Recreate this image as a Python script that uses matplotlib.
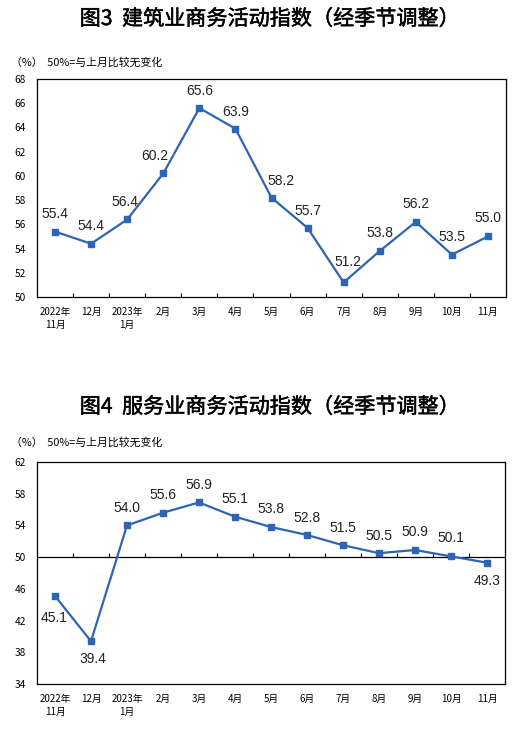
import numpy as np
import matplotlib
matplotlib.use("Agg")
import matplotlib.pyplot as plt
import matplotlib.patheffects as pe

plt.rcParams['font.family'] = ['Noto Sans CJK SC', 'DejaVu Sans']

months = ['2022年\n11月', '12月', '2023年\n1月', '2月', '3月', '4月', '5月',
          '6月', '7月', '8月', '9月', '10月', '11月']
construction = [55.4, 54.4, 56.4, 60.2, 65.6, 63.9, 58.2, 55.7, 51.2, 53.8, 56.2, 53.5, 55.0]
services = [45.1, 39.4, 54.0, 55.6, 56.9, 55.1, 53.8, 52.8, 51.5, 50.5, 50.9, 50.1, 49.3]

# label offsets in points (dx, dy)
off_top = [(0, 12.5), (0, 13), (-1.5, 12.5), (-6, 12.5), (0, 12), (0, 12), (6.5, 12),
           (0, 12.5), (3, 15), (0, 13), (0, 13), (0, 13), (0, 13)]
off_bot = [(-1, -16), (1.5, -13), (0, 12.5), (0, 12.5), (0, 12.5), (0, 13), (0, 13),
           (0, 12.5), (0, 12.5), (0, 12.5), (0, 13), (0, 13), (0, -13)]

BLUE = '#2E64B6'
W, H = 517, 733


def draw(ax, vals, offs, ylim, yticks, base=None):
    x = np.arange(len(vals))
    ax.plot(x, vals, color=BLUE, lw=1.6, marker='s', ms=4.5, zorder=3)
    for xi, v, (dx, dy) in zip(x, vals, offs):
        ax.annotate(f'{v:.1f}', (xi, v), xytext=(dx, dy), textcoords='offset points',
                    ha='center', va='center', fontsize=10, family='Liberation Sans',
                    color='#222222')
    ax.set_xlim(-0.5, len(vals) - 0.5)
    ax.set_ylim(*ylim)
    ax.set_yticks(yticks)
    ax.tick_params(axis='y', length=0, pad=8, labelsize=7.3)
    ax.set_xticks(x)
    ax.set_xticklabels(months, fontsize=7, linespacing=1.4)
    ax.tick_params(axis='x', which='major', length=0, pad=7)
    for s in ax.spines.values():
        s.set_linewidth(0.9)
    if base is None:
        ax.set_xticks(x[:-1] + 0.5, minor=True)
        ax.tick_params(axis='x', which='minor', direction='in', length=3, width=0.8)
    else:
        ax.axhline(base, color='black', lw=0.9, zorder=2)
        tick_h = (ylim[1] - ylim[0]) * 0.02
        ax.vlines(x[:-1] + 0.5, base, base + tick_h, color='black', lw=0.8)


fig = plt.figure(figsize=(W / 100, H / 100), dpi=100)

ax1 = fig.add_axes([37 / W, 1 - 297 / H, 469 / W, 218 / H])
draw(ax1, construction, off_top, (50, 68), np.arange(50, 69, 2))

ax2 = fig.add_axes([37 / W, 1 - 684 / H, 468 / W, 222 / H])
draw(ax2, services, off_bot, (34, 62), np.arange(34, 63, 4), base=50)

thick = [pe.withStroke(linewidth=0.35, foreground='black')]
fig.text(0.522, 1 - 19 / H, '图3  建筑业商务活动指数（经季节调整）', ha='center', va='center',
         fontsize=15.2, path_effects=thick)
fig.text(11 / W, 1 - 62 / H, '（%）  50%=与上月比较无变化', ha='left', va='center', fontsize=7.8)
fig.text(0.522, 1 - 407 / H, '图4  服务业商务活动指数（经季节调整）', ha='center', va='center',
         fontsize=15.2, path_effects=thick)
fig.text(11 / W, 1 - 442 / H, '（%）  50%=与上月比较无变化', ha='left', va='center', fontsize=7.8)

fig.savefig('out.png', dpi=100)
